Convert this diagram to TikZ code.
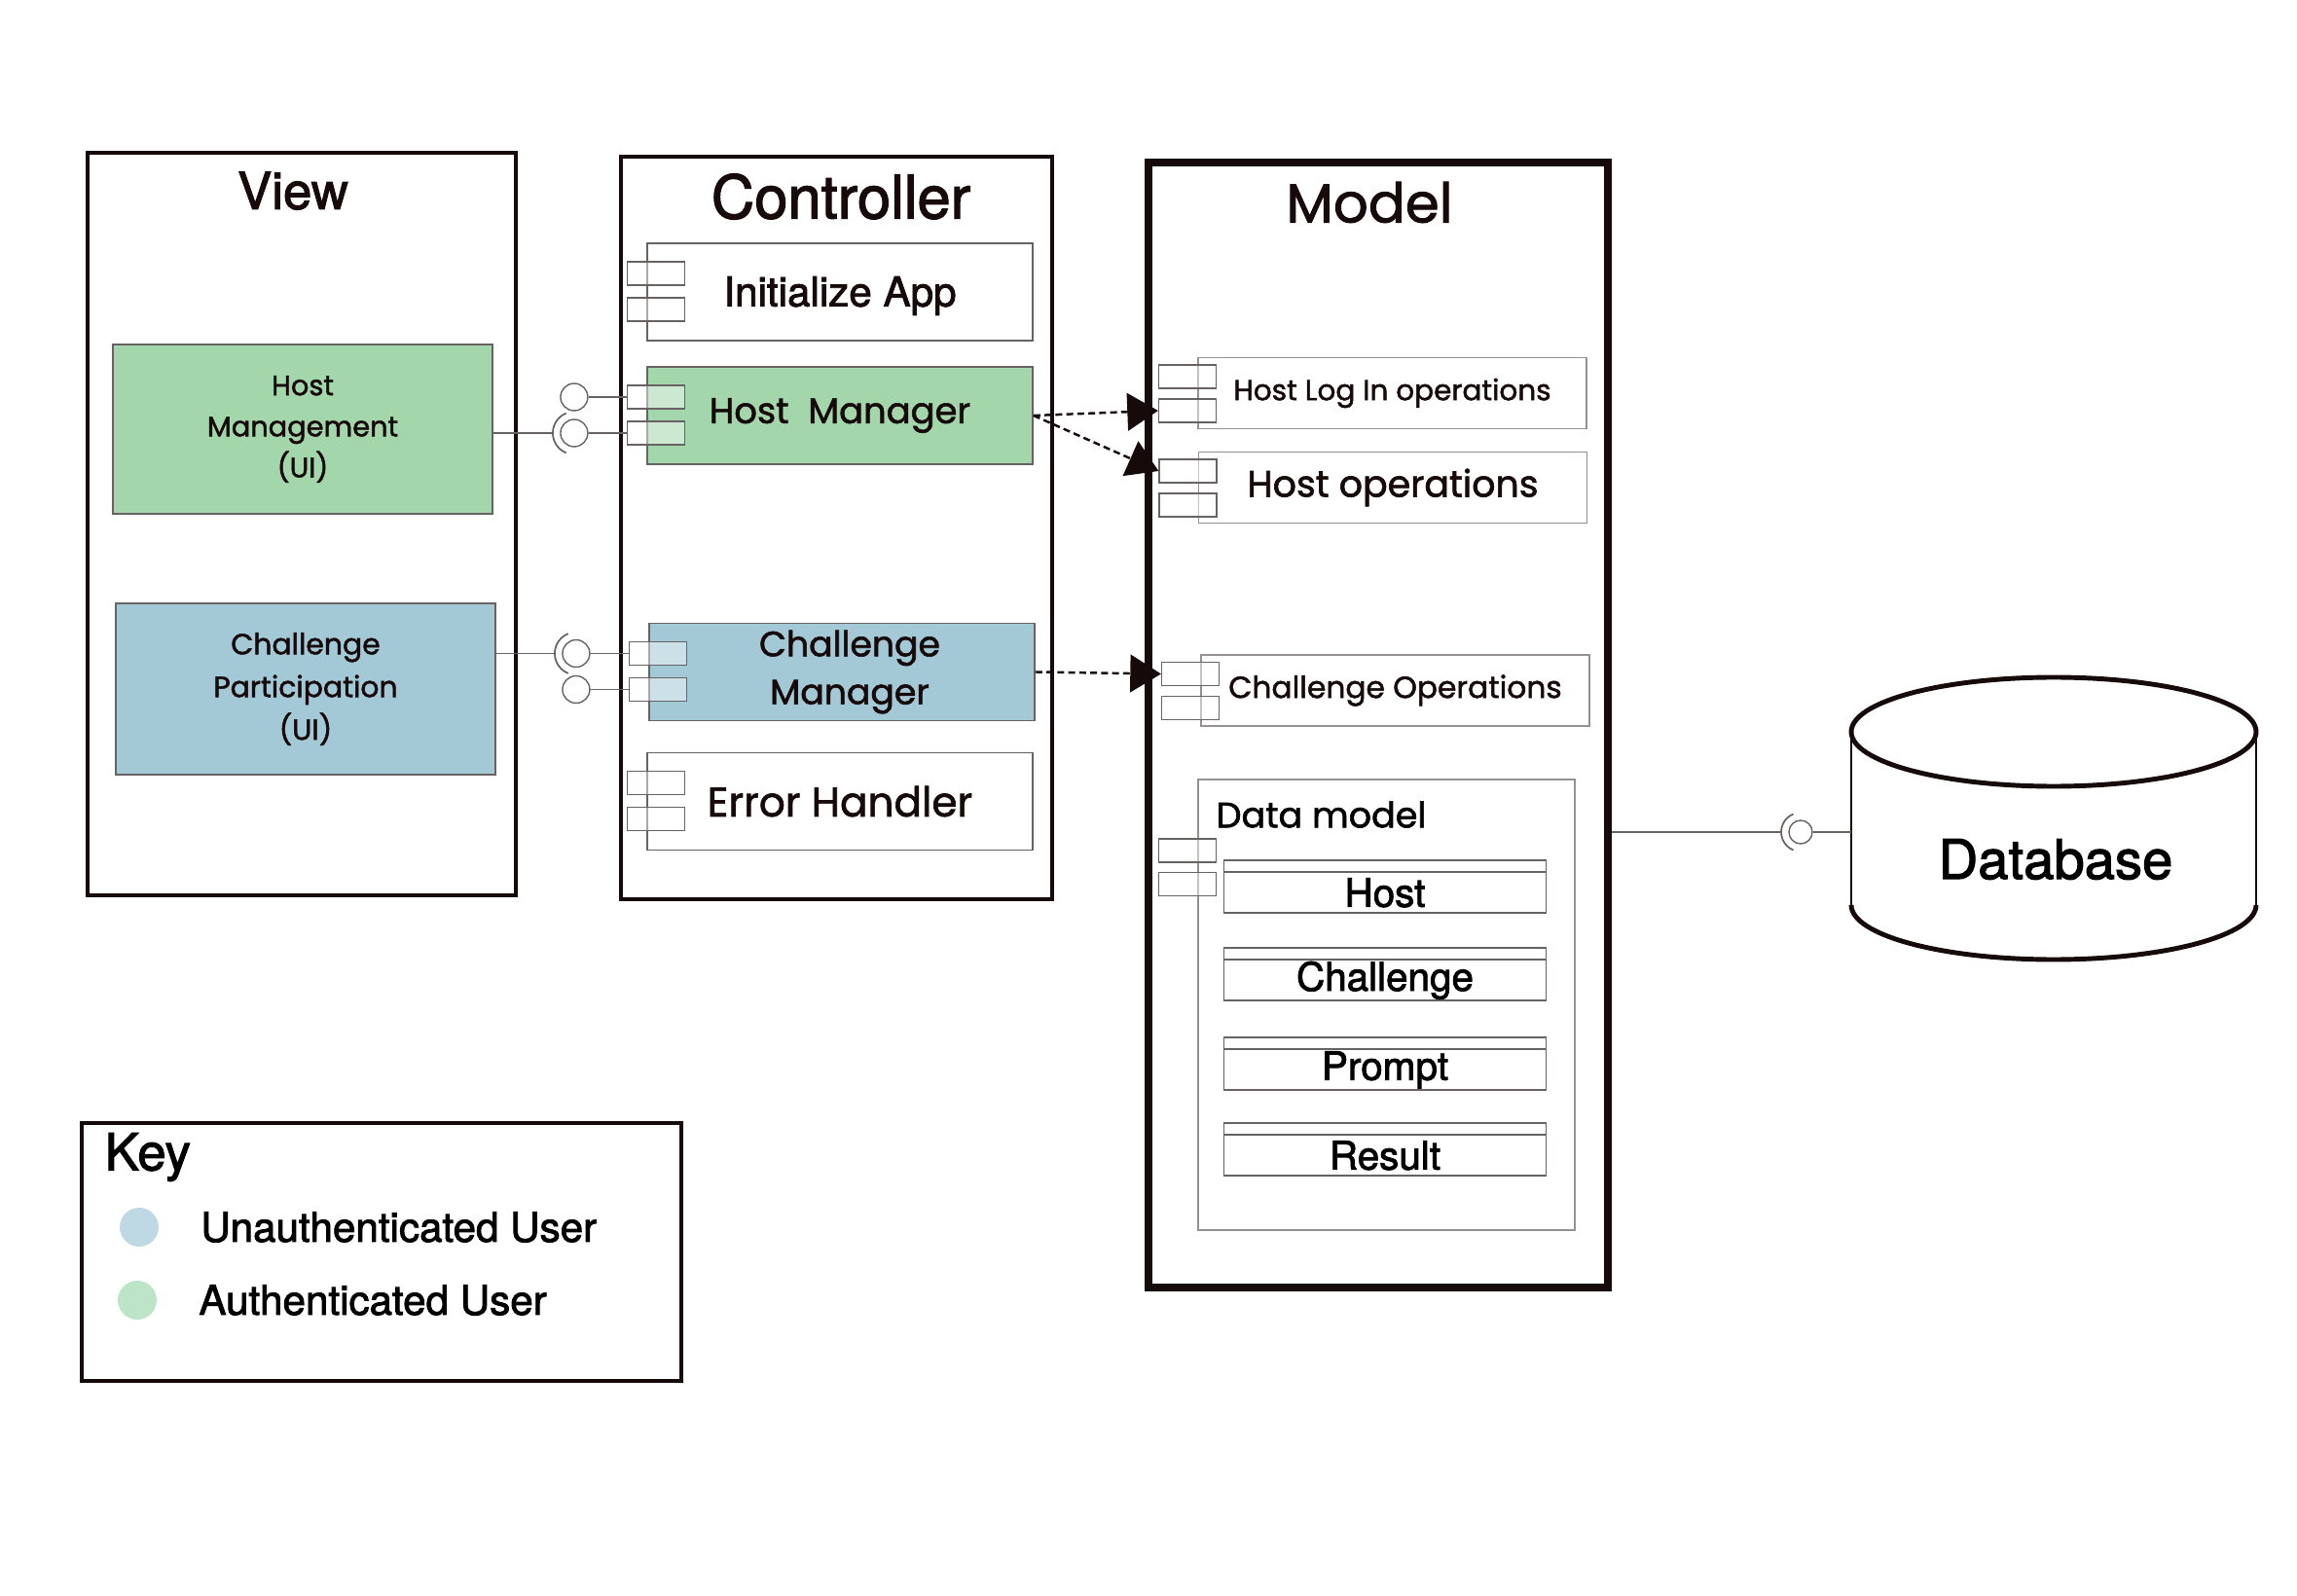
\documentclass[tikz,border=0pt]{standalone}
\usepackage{fontspec}
\setmainfont{Poppins}[FakeBold=1.6]
\newfontfamily\heros{TeX Gyre Heros}[FakeBold=2]
\usepackage{tikz}
\usetikzlibrary{calc}
\usetikzlibrary{positioning}
\usetikzlibrary{arrows.meta}

\definecolor{hostgreen}{RGB}{163,214,171}
\definecolor{guestblue}{RGB}{163,200,214}
\definecolor{keyblue}{RGB}{190,217,228}
\definecolor{keygreen}{RGB}{190,228,200}
\definecolor{edgegray}{RGB}{105,98,98}
\definecolor{ink}{RGB}{22,10,10}

\tikzset{
  layer/.style={draw=ink, line width=1.2pt},
  title/.style={text=ink, inner sep=0pt},
  comp/.style={draw=edgegray, line width=.5pt, minimum width=3.96cm,
    minimum height=1cm, inner sep=0pt, text=ink},
  opbox/.style={draw=edgegray!70, line width=.5pt, minimum width=3.99cm,
    minimum height=.73cm, inner sep=0pt, text=ink},
  port/.style={draw=edgegray, line width=.4pt, fill=white, fill opacity=.45,
    minimum width=.59cm, minimum height=.24cm, inner sep=0pt},
  ball/.style={circle, draw=edgegray, line width=.4pt, minimum size=.28cm, inner sep=0pt},
  wire/.style={draw=edgegray, line width=.5pt},
  depend/.style={ink, line width=.7pt, dash pattern=on 2pt off 1.2pt,
    -{Triangle[length=9pt,width=11pt]}},
  entity/.style={draw=edgegray, line width=.5pt, minimum width=3.31cm,
    minimum height=.54cm, inner sep=0pt},
  keydot/.style={circle, minimum size=.4cm, inner sep=0pt},
}

\begin{document}
\begin{tikzpicture}
  \useasboundingbox (0,0) rectangle (23.6,-16.4);

  % the three layers
  \node[layer, minimum width=4.40cm, minimum height=7.63cm] (view) at (3.10,-5.385) {};
  \node[layer, minimum width=4.43cm, minimum height=7.63cm] (ctrl) at (8.595,-5.425) {};
  \node[layer, line width=2pt, minimum width=4.72cm, minimum height=11.56cm] (model) at (14.16,-7.45) {};
  \node[title, font=\heros\fontsize{15}{17}\selectfont] (viewtitle) at (3.01,-1.96) {View};
  \node[title, font=\heros\fontsize{17.5}{20}\selectfont] (ctrltitle) at (8.64,-2.02) {Controller};
  \node[title, font=\fontsize{16}{18}\selectfont] (modeltitle) at (14.07,-2.08) {Model};

  % view
  \node[comp, fill=hostgreen, minimum width=3.90cm, minimum height=1.74cm, align=center,
    font=\fontsize{8.2}{12}\selectfont] (hostui) at (3.11,-4.41) {Host\\Management\\(UI)};
  \node[comp, fill=guestblue, minimum width=3.90cm, minimum height=1.76cm, align=center,
    font=\fontsize{8.5}{12.5}\selectfont] (chalui) at (3.14,-7.08) {Challenge\\Participation\\(UI)};

  % controller
  \node[comp, text height=1.05em, text depth=.21em, font=\heros\fontsize{12}{14}\selectfont] (initapp) at (8.63,-3.0) {Initialize App};
  \node[comp, fill=hostgreen, font=\fontsize{10.5}{12}\selectfont] (hostmgr) at (8.63,-4.27) {Host\ \ Manager};
  \node[comp, fill=guestblue, align=center, font=\fontsize{10.3}{14}\selectfont] (chalmgr) at (8.65,-6.905) {\hspace*{.16cm}Challenge\\\hspace*{.16cm}Manager};
  \node[comp, font=\fontsize{12}{14}\selectfont] (errhdl) at (8.63,-8.235) {Error Handler};
  \foreach \c in {initapp,hostmgr,chalmgr,errhdl} {
    \node[port] (\c-a) at ($(\c.west)+(.1,.19)$) {};
    \node[port] (\c-b) at ($(\c.west)+(.1,-.18)$) {};
  }

  % model
  \node[opbox, font=\fontsize{8.4}{10}\selectfont] (login) at (14.305,-4.04) {Host Log In operations};
  \node[opbox, font=\fontsize{10.8}{12}\selectfont] (hostops) at (14.31,-5.01) {Host operations};
  \node[opbox, font=\fontsize{8.9}{11}\selectfont] (chalops) at (14.335,-7.095) {Challenge Operations};
  \foreach \c in {login,hostops,chalops} {
    \node[port] (\c-a) at ($(\c.west)+(-.1,.17)$) {};
    \node[port] (\c-b) at ($(\c.west)+(-.1,-.18)$) {};
  }
  \node[opbox, minimum width=3.87cm, minimum height=4.63cm] (datamodel) at (14.245,-10.325) {};
  \node[anchor=west, inner sep=0pt, font=\fontsize{10.4}{12}\selectfont] (dmtitle) at (12.49,-8.37) {Data model};
  \node[port] (datamodel-a) at (12.20,-8.74) {};
  \node[port] (datamodel-b) at (12.20,-9.085) {};
  \foreach \e/\y in {Host/8.83,Challenge/9.73,Prompt/10.65,Result/11.53} {
    \node[entity, anchor=north] (ent-\e) at (14.23,-\y) {};
    \draw[edgegray, line width=.5pt] ($(ent-\e.north west)+(0,-.13)$) -- ($(ent-\e.north east)+(0,-.13)$);
    \node[font=\heros\fontsize{11.5}{13}\selectfont] (ent-\e-name) at ($(ent-\e.center)+(0,-.065)$) {\e};
  }

  % database
  \draw[ink, line width=.6pt] (19.02,-7.52) -- (19.02,-9.30);
  \draw[ink, line width=.6pt] (23.18,-7.52) -- (23.18,-9.30);
  \draw[ink, line width=1.4pt] (19.02,-9.30) arc[start angle=180, end angle=360, x radius=2.08, y radius=.56];
  \draw[ink, line width=1.4pt] (21.10,-7.52) ellipse [x radius=2.08, y radius=.56];
  \node[font=\heros\fontsize{16}{18}\selectfont] (db) at (21.12,-8.83) {Database};
  \coordinate (dbside) at (19.02,-8.55);

  % provided / required interfaces
  \foreach \b/\p in {hball-a/hostmgr-a, hball-b/hostmgr-b, cball-a/chalmgr-a, cball-b/chalmgr-b} {
    \node[ball] (\b) at ($(\p.west)+(-.54,0)$) {};
    \draw[wire] (\b) -- (\p);
  }
  \foreach \b/\ui in {hball-b/hostui, cball-a/chalui} {
    \draw[wire] ([shift={(112:.22)}]\b.center) arc[start angle=112, end angle=248, radius=.22];
    \draw[wire] (\ui.east |- \b.center) -- ([xshift=-.22cm]\b.center);
  }
  \node[ball, minimum size=.24cm] (dbball) at (18.50,-8.55) {};
  \draw[wire] ([shift={(112:.2)}]dbball.center) arc[start angle=112, end angle=248, radius=.2];
  \draw[wire] (model.east |- dbball.center) -- ([xshift=-.2cm]dbball.center);
  \draw[wire] (dbball) -- (dbside);

  % dependencies
  \draw[depend] (hostmgr.east) -- (login-b.west);
  \draw[depend] (hostmgr.east) -- (hostops-a.west);
  \draw[depend] (chalmgr.east) -- (chalops-a.west);

  % key
  \node[layer, line width=1pt, minimum width=6.16cm, minimum height=2.65cm] (key) at (3.92,-12.865) {};
  \node[anchor=west, inner sep=0pt, font=\heros\fontsize{15}{17}\selectfont] (keytitle) at (1.07,-11.89) {Key};
  \node[keydot, fill=keyblue] (keyguest) at (1.43,-12.61) {};
  \node[keydot, fill=keygreen] (keyhost) at (1.41,-13.36) {};
  \node[right=.42cm of keyguest, inner sep=0pt, font=\heros\fontsize{12}{14}\selectfont] (keyguesttxt) {Unauthenticated User};
  \node[right=.42cm of keyhost, inner sep=0pt, font=\heros\fontsize{12}{14}\selectfont] (keyhosttxt) {Authenticated User};
\end{tikzpicture}
\end{document}
